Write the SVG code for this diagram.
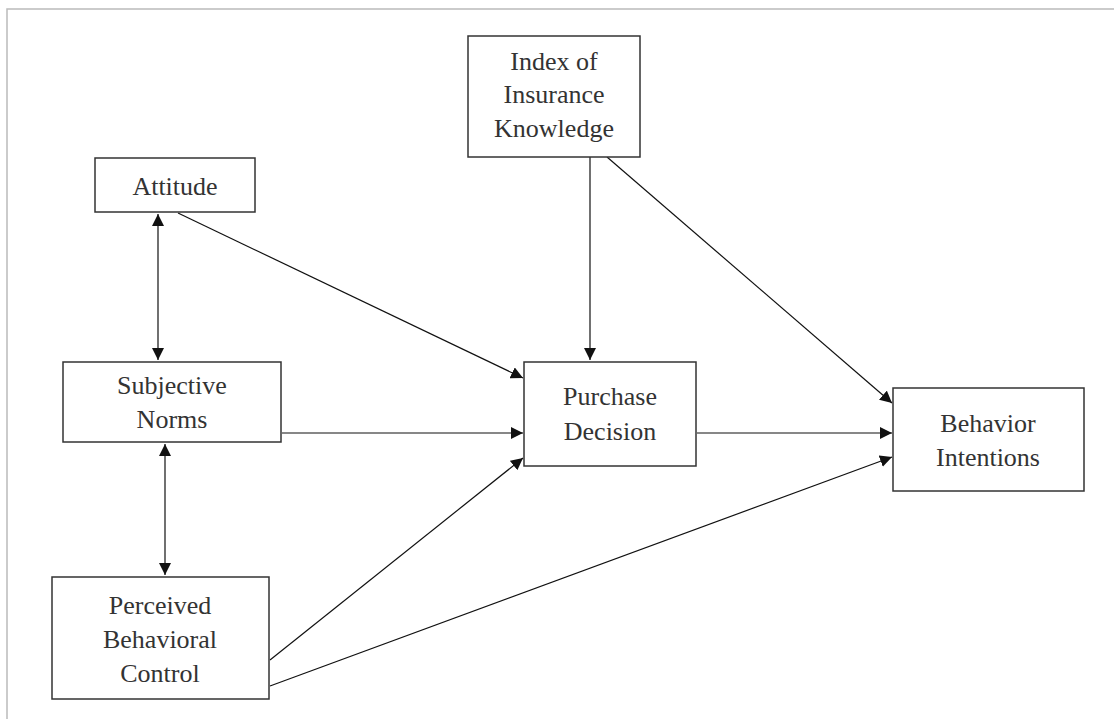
<svg xmlns="http://www.w3.org/2000/svg" width="1114" height="719" viewBox="0 0 1114 719">
<defs>
<style>
.box{fill:#fff;stroke:#333;stroke-width:1.5}
.t{font-family:'Liberation Serif','Tinos','DejaVu Serif','Times New Roman',serif;font-size:26px;fill:#333;text-anchor:middle}
.c{stroke:#111;stroke-width:1.2;fill:none}
</style>
<marker id="ah" viewBox="0 0 10 10" refX="10" refY="5" markerWidth="12" markerHeight="12" markerUnits="userSpaceOnUse" orient="auto-start-reverse">
<path d="M0,0 L10,5 L0,10 z" fill="#111"/>
</marker>
</defs>
<rect width="1114" height="719" fill="#fff"/>
<path d="M7,719 L7,9 L1114,9" stroke="#bbb" stroke-width="1.5" fill="none"/>
<g id="connectors">
<line class="c" x1="158" y1="214" x2="158" y2="360" marker-start="url(#ah)" marker-end="url(#ah)"/>
<line class="c" x1="165" y1="444" x2="165" y2="575" marker-start="url(#ah)" marker-end="url(#ah)"/>
<line class="c" x1="178" y1="213" x2="523" y2="378" marker-end="url(#ah)"/>
<line class="c" x1="590" y1="157" x2="590" y2="360" marker-end="url(#ah)"/>
<line class="c" x1="607" y1="157" x2="892" y2="403" marker-end="url(#ah)"/>
<line class="c" x1="282" y1="433" x2="523" y2="433" marker-end="url(#ah)"/>
<line class="c" x1="697" y1="433" x2="892" y2="433" marker-end="url(#ah)"/>
<line class="c" x1="270" y1="660" x2="523" y2="458" marker-end="url(#ah)"/>
<line class="c" x1="270" y1="686" x2="892" y2="457" marker-end="url(#ah)"/>
</g>
<g id="attitude">
<rect class="box" x="95" y="158" width="160" height="54"/>
<text class="t" x="175" y="195" font-family="Liberation Serif, serif">Attitude</text>
</g>
<g id="subjective-norms">
<rect class="box" x="63" y="362" width="218" height="80"/>
<text class="t" x="172" y="394">Subjective</text>
<text class="t" x="172" y="428">Norms</text>
</g>
<g id="perceived-behavioral-control">
<rect class="box" x="52" y="577" width="217" height="122"/>
<text class="t" x="160" y="614">Perceived</text>
<text class="t" x="160" y="648">Behavioral</text>
<text class="t" x="160" y="682">Control</text>
</g>
<g id="index-insurance-knowledge">
<rect class="box" x="468" y="36" width="172" height="121"/>
<text class="t" x="554" y="70">Index of</text>
<text class="t" x="554" y="103">Insurance</text>
<text class="t" x="554" y="137">Knowledge</text>
</g>
<g id="purchase-decision">
<rect class="box" x="524" y="362" width="172" height="104"/>
<text class="t" x="610" y="405">Purchase</text>
<text class="t" x="610" y="440">Decision</text>
</g>
<g id="behavior-intentions">
<rect class="box" x="893" y="388" width="191" height="103"/>
<text class="t" x="988" y="432">Behavior</text>
<text class="t" x="988" y="466">Intentions</text>
</g>
</svg>
